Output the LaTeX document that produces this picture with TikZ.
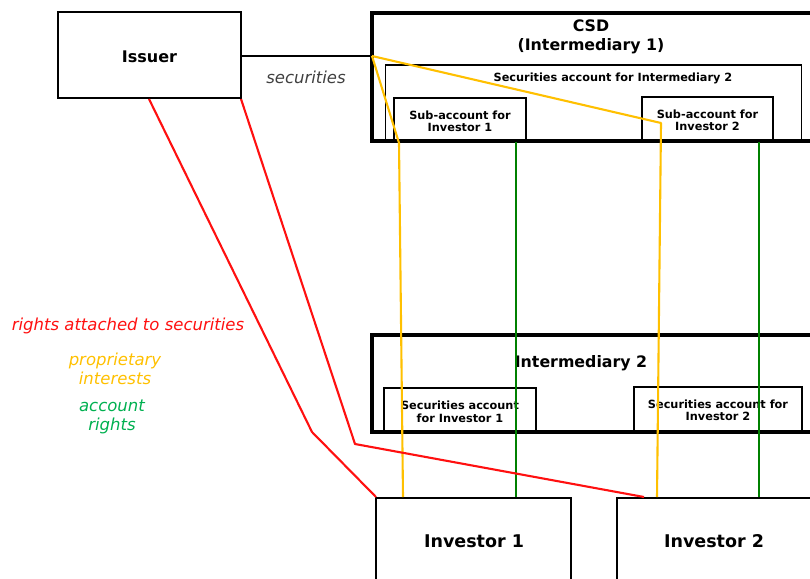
\documentclass[tikz,border=0pt]{standalone}
\usepackage{fontspec}
\setmainfont{DejaVu Sans}
\definecolor{myred}{HTML}{FF1010}
\definecolor{myyellow}{HTML}{FFC000}
\definecolor{mygreen}{HTML}{008000}
\definecolor{legendgreen}{HTML}{00B050}
\definecolor{mygray}{HTML}{404040}
\begin{document}
\begin{tikzpicture}[x=1pt,y=-1pt,
  box/.style={draw=black,line width=1.9pt,fill=white,inner sep=0pt},
  frame/.style={draw=black,line width=3.2pt},
  boldtxt/.style={font=\fontsize{15.8}{19}\selectfont\bfseries,inner sep=0pt},
  smalltxt/.style={font=\fontsize{11.3}{12.5}\selectfont\bfseries,align=center,inner sep=0pt},
  legend/.style={font=\fontsize{16.5}{19.5}\selectfont\itshape,align=center,inner sep=0pt},
  redline/.style={draw=myred,line width=2.1pt},
  yelline/.style={draw=myyellow,line width=2.1pt},
  grnline/.style={draw=mygreen,line width=2.1pt}]
\useasboundingbox (0,0) rectangle (810,578);
% frames
\draw[frame] (830,13) -| (372,141) -- (830,141);
\draw[frame] (830,335) -| (372,432) -- (830,432);
% boxes
\node[box,minimum width=183pt,minimum height=86pt] (issuer) at (149.5,55) {};
\node[boldtxt,font=\fontsize{16}{19}\selectfont\bfseries] (issuertxt) at (149.5,56.5) {Issuer};
\node[box,minimum width=416pt,minimum height=76pt] (sai2) at (593.5,103) {};
\node[smalltxt] (sai2txt) at (613,78.5) {Securities account for Intermediary 2};
\node[box,minimum width=132pt,minimum height=43pt] (sub1) at (460,119.5) {};
\node[smalltxt] (sub1txt) at (460,121.5) {Sub-account for\\Investor 1};
\node[box,minimum width=131pt,minimum height=44pt] (sub2) at (707.5,119) {};
\node[smalltxt] (sub2txt) at (707.5,120.5) {Sub-account for\\Investor 2};
\draw[frame] (372,141) -- (830,141);
\node[boldtxt,align=center] (csd) at (591,37) {CSD\\(Intermediary 1)};
\node[boldtxt] (int2) at (581,363.5) {Intermediary 2};
\node[box,minimum width=152pt,minimum height=44pt] (sa1) at (460,410) {};
\node[smalltxt] (sa1txt) at (460,412) {Securities account\\for Investor 1};
\node[box,minimum width=168pt,minimum height=45pt] (sa2) at (718,409.5) {};
\node[smalltxt] (sa2txt) at (718,410.5) {Securities account for\\Investor 2};
\draw[frame] (372,432) -- (830,432);
\node[box,minimum width=195pt,minimum height=120pt] (inv1box) at (473.5,558) {};
\node[boldtxt,font=\fontsize{17.5}{20}\selectfont\bfseries] (inv1) at (474,541) {Investor 1};
\node[box,minimum width=220pt,minimum height=120pt] (inv2box) at (727,558) {};
\node[boldtxt,font=\fontsize{17.5}{20}\selectfont\bfseries] (inv2) at (714,541) {Investor 2};
% coordinates
\coordinate (csdjoin) at (372,56);
\coordinate (y1a) at (399,143);
\coordinate (y1b) at (403,497);
\coordinate (y2a) at (661,123);
\coordinate (y2b) at (657,497);
\coordinate (g1a) at (516,142);
\coordinate (g1b) at (516,497);
\coordinate (g2a) at (759,142);
\coordinate (g2b) at (759,497);
\coordinate (r1a) at (149,99);
\coordinate (r1b) at (312,432);
\coordinate (r1c) at (376,497);
\coordinate (r2a) at (241,99);
\coordinate (r2b) at (355,444);
\coordinate (r2c) at (644,497);
% connectors
\draw[black,line width=1.8pt] (issuer.east |- csdjoin) -- (csdjoin);
\node[legend,text=mygray] (sec) at (306,77) {securities};
\draw[yelline,line join=round] (csdjoin) -- (y1a) -- (y1b);
\draw[yelline,line join=round] (csdjoin) -- (y2a) -- (y2b);
\draw[grnline] (g1a) -- (g1b);
\draw[grnline] (g2a) -- (g2b);
\draw[redline,line join=round] (r1a) -- (r1b) -- (r1c);
\draw[redline,line join=round] (r2a) -- (r2b) -- (r2c);
% legend
\node[legend,text=myred] (lred) at (128,326) {rights attached to securities};
\node[legend,text=myyellow] (lyel) at (115,369) {proprietary\\interests};
\node[legend,text=legendgreen] (lgrn) at (112,417) {account\\rights};
\end{tikzpicture}
\end{document}
